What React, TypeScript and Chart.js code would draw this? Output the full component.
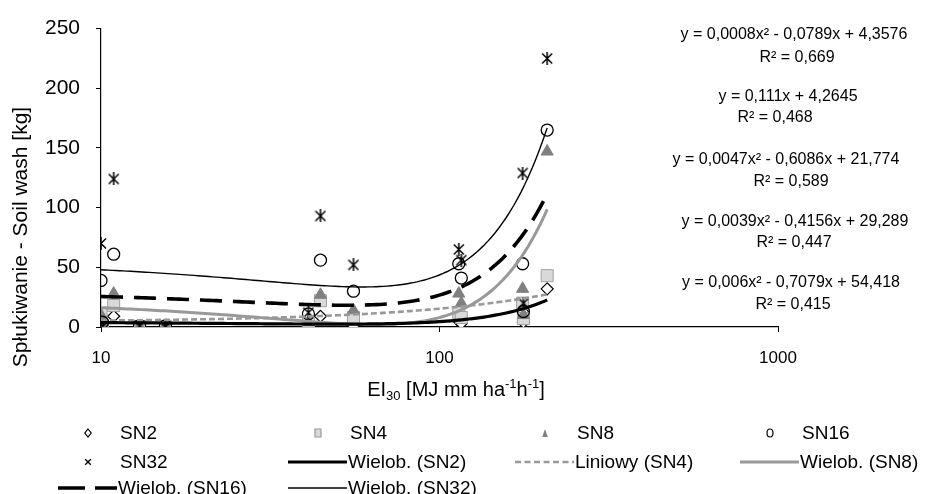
import { useEffect, useRef } from "react";
import { Chart, registerables } from "chart.js";

Chart.register(...registerables);

// ---- Data ----
const EI30 = [10.0, 10.1, 10.9, 13.0, 15.5, 41, 44.5, 55.7, 114, 116, 176, 177, 208];
const SN2 = [1, 0.5, 9, 0.5, 0.5, 2, 9, 1, 5, 3, 13, 4, 32];
const SN4 = [11, 1, 18, 0.5, 0.5, 3, 22, 8, 12, 8, 20, 7, 43];
const SN8 = [10, 1, 28, 0.5, 1, 4, 27, 14, 28, 20, 32, 10, 147];
const SN16 = [39, 4, 61, 1, 1, 11, 56, 30, 53, 41, 53, 13, 165];
const SN32 = [70, 0.5, 124, 1, 0, 12, 93, 52, 65, 56, 129, 20, 225];

// trendline coefficients [a, b, c] : y = a*x^2 + b*x + c (as printed on the chart)
const TREND_SN2 = [0.0008, -0.0789, 4.3576];
const TREND_SN4 = [0, 0.111, 4.2645];
const TREND_SN8 = [0.0047, -0.6086, 21.774];
const TREND_SN16 = [0.0039, -0.4156, 29.289];
const TREND_SN32 = [0.006, -0.7079, 54.418];

const EQUATIONS = [
  "y = 0,0008x² - 0,0789x + 4,3576",
  "y = 0,111x + 4,2645",
  "y = 0,0047x² - 0,6086x + 21,774",
  "y = 0,0039x² - 0,4156x + 29,289",
  "y = 0,006x² - 0,7079x + 54,418",
];
const R_SQUARED = ["R² = 0,669", "R² = 0,468", "R² = 0,589", "R² = 0,447", "R² = 0,415"];

const X_TICKS = [10, 100, 1000];
const Y_TICKS = [0, 50, 100, 150, 200, 250];
const SERIES_NAMES = ["SN2", "SN4", "SN8", "SN16", "SN32"];
const TREND_NAMES = ["Wielob. (SN2)", "Liniowy (SN4)", "Wielob. (SN8)", "Wielob. (SN16)", "Wielob. (SN32)"];
const Y_TITLE = "Spłukiwanie - Soil wash [kg]";

const FONT = '"Liberation Sans", Arial, sans-serif';

function trendPoints(coef: number[]) {
  const lo = Math.min(...EI30);
  const hi = Math.max(...EI30);
  const n = 120;
  const pts: { x: number; y: number }[] = [];
  for (let i = 0; i <= n; i++) {
    const x = Math.exp(Math.log(lo) + ((Math.log(hi) - Math.log(lo)) * i) / n);
    pts.push({ x, y: coef[0] * x * x + coef[1] * x + coef[2] });
  }
  return pts;
}

function makeStar(size: number, lw: number) {
  const c = document.createElement("canvas");
  c.width = size;
  c.height = size + 1;
  const g = c.getContext("2d")!;
  g.strokeStyle = "#000";
  g.lineWidth = lw;
  const m = size / 2;
  g.beginPath();
  g.moveTo(1, 1.5);
  g.lineTo(size - 1, size - 0.5);
  g.moveTo(size - 1, 1.5);
  g.lineTo(1, size - 0.5);
  g.moveTo(m, 0);
  g.lineTo(m, size + 1);
  g.stroke();
  return c;
}

type MarkerKind = "diamond" | "square" | "triangle" | "circle" | "star";

function drawMarker(ctx: CanvasRenderingContext2D, kind: MarkerKind, x: number, y: number, s: number) {
  ctx.save();
  ctx.lineWidth = 1.2;
  ctx.beginPath();
  if (kind === "diamond") {
    ctx.moveTo(x, y - s);
    ctx.lineTo(x + s * 0.8, y);
    ctx.lineTo(x, y + s);
    ctx.lineTo(x - s * 0.8, y);
    ctx.closePath();
    ctx.fillStyle = "#fff";
    ctx.strokeStyle = "#000";
    ctx.fill();
    ctx.stroke();
  } else if (kind === "square") {
    ctx.rect(x - s * 0.75, y - s, s * 1.5, s * 2);
    ctx.fillStyle = "#d9d9d9";
    ctx.strokeStyle = "#9a9a9a";
    ctx.fill();
    ctx.stroke();
  } else if (kind === "triangle") {
    ctx.moveTo(x, y - s);
    ctx.lineTo(x + s * 0.7, y + s);
    ctx.lineTo(x - s * 0.7, y + s);
    ctx.closePath();
    ctx.fillStyle = "#808080";
    ctx.fill();
  } else if (kind === "circle") {
    ctx.ellipse(x, y, s * 0.75, s, 0, 0, Math.PI * 2);
    ctx.strokeStyle = "#000";
    ctx.stroke();
  } else {
    ctx.strokeStyle = "#000";
    ctx.lineWidth = 1.4;
    ctx.moveTo(x - s * 0.7, y - s * 0.7);
    ctx.lineTo(x + s * 0.7, y + s * 0.7);
    ctx.moveTo(x + s * 0.7, y - s * 0.7);
    ctx.lineTo(x - s * 0.7, y + s * 0.7);
    ctx.stroke();
  }
  ctx.restore();
}

const LINE_STYLES = [
  { color: "#000", width: 3.2, dash: [] as number[], legendDash: [] as number[] },
  { color: "#999", width: 2.6, dash: [6, 3], legendDash: [6, 3.5] },
  { color: "#999", width: 3, dash: [] as number[], legendDash: [] as number[] },
  { color: "#000", width: 3.6, dash: [22, 11], legendDash: [27, 10] },
  { color: "#000", width: 1.4, dash: [] as number[], legendDash: [] as number[] },
];
const MARKERS: MarkerKind[] = ["diamond", "square", "triangle", "circle", "star"];

const textPlugin = {
  id: "customText",
  afterDraw(chart: any) {
    const ctx: CanvasRenderingContext2D = chart.ctx;
    ctx.save();
    ctx.fillStyle = "#000";

    // Y title
    ctx.save();
    ctx.translate(21, 237);
    ctx.rotate(-Math.PI / 2);
    ctx.font = `21px ${FONT}`;
    ctx.textAlign = "center";
    ctx.textBaseline = "middle";
    ctx.fillText(Y_TITLE, 0, 0);
    ctx.restore();

    // X title with sub / superscripts
    const parts: { t: string; size: number; dy: number }[] = [
      { t: "EI", size: 20, dy: 0 },
      { t: "30", size: 13, dy: 4 },
      { t: " [MJ mm ha", size: 20, dy: 0 },
      { t: "-1", size: 13, dy: -8 },
      { t: "h", size: 20, dy: 0 },
      { t: "-1", size: 13, dy: -8 },
      { t: "]", size: 20, dy: 0 },
    ];
    let total = 0;
    for (const p of parts) {
      ctx.font = `${p.size}px ${FONT}`;
      total += ctx.measureText(p.t).width;
    }
    let x = 456 - total / 2;
    ctx.textAlign = "left";
    ctx.textBaseline = "alphabetic";
    for (const p of parts) {
      ctx.font = `${p.size}px ${FONT}`;
      ctx.fillText(p.t, x, 396 + p.dy);
      x += ctx.measureText(p.t).width;
    }

    // Equations
    const eqX = [794, 788, 786, 795, 791];
    const eqY = [35, 97, 160, 222, 283];
    const rX = [797, 775, 791, 794, 793];
    const rY = [58, 118, 182, 243, 305];
    ctx.font = `16px ${FONT}`;
    ctx.textAlign = "center";
    ctx.textBaseline = "middle";
    EQUATIONS.forEach((eq, i) => {
      ctx.fillText(eq, eqX[i], eqY[i]);
      ctx.fillText(R_SQUARED[i], rX[i], rY[i]);
    });

    // Legend
    const colX = [88, 318, 545, 770];
    const rowY = [433, 462, 488];
    const items: { name: string; kind: "m" | "l"; idx: number }[] = [
      ...SERIES_NAMES.map((n, i) => ({ name: n, kind: "m" as const, idx: i })),
      ...TREND_NAMES.map((n, i) => ({ name: n, kind: "l" as const, idx: i })),
    ];
    ctx.font = `19px ${FONT}`;
    ctx.textAlign = "left";
    ctx.textBaseline = "middle";
    items.forEach((it, k) => {
      const cx = colX[k % 4];
      const cy = rowY[Math.floor(k / 4)];
      if (it.kind === "m") {
        drawMarker(ctx, MARKERS[it.idx], cx, cy, 4);
        ctx.fillStyle = "#000";
        ctx.fillText(it.name, cx + 32, cy + 1);
      } else {
        const st = LINE_STYLES[it.idx];
        ctx.save();
        ctx.strokeStyle = st.color;
        ctx.lineWidth = st.width;
        ctx.setLineDash(st.legendDash);
        ctx.beginPath();
        ctx.moveTo(cx - 30, cy);
        ctx.lineTo(cx + 29, cy);
        ctx.stroke();
        ctx.restore();
        ctx.fillStyle = "#000";
        ctx.fillText(it.name, cx + 30, cy + 1);
      }
    });
    ctx.restore();
  },
};

export default function App() {
  const ref = useRef<HTMLCanvasElement | null>(null);

  useEffect(() => {
    document.body.style.margin = "0";
    const canvas = ref.current!;
    const star = makeStar(12, 1.5);
    const pts = (arr: number[]) => EI30.map((x, i) => ({ x, y: arr[i] }));
    const trends = [TREND_SN2, TREND_SN4, TREND_SN8, TREND_SN16, TREND_SN32];

    const trendSets = trends.map((c, i) => ({
      type: "line" as const,
      label: TREND_NAMES[i],
      data: trendPoints(c),
      showLine: true,
      pointRadius: 0,
      borderColor: LINE_STYLES[i].color,
      borderWidth: LINE_STYLES[i].width,
      borderDash: LINE_STYLES[i].dash,
      tension: 0,
      fill: false,
      order: 0,
    }));

    const chart = new Chart(canvas, {
      type: "scatter",
      data: {
        datasets: [
          ...trendSets,
          {
            label: "SN2",
            data: pts(SN2),
            pointStyle: "rectRot",
            pointRadius: 6,
            backgroundColor: "#fff",
            borderColor: "#000",
            borderWidth: 1.2,
            order: 5,
          },
          {
            label: "SN4",
            data: pts(SN4),
            pointStyle: "rect",
            pointRadius: 8.5,
            backgroundColor: "#d9d9d9",
            borderColor: "#a0a0a0",
            borderWidth: 1,
            order: 4,
          },
          {
            label: "SN8",
            data: pts(SN8),
            pointStyle: "triangle",
            pointRadius: 7,
            backgroundColor: "#808080",
            borderColor: "#808080",
            borderWidth: 1,
            order: 3,
          },
          {
            label: "SN16",
            data: pts(SN16),
            pointStyle: "circle",
            pointRadius: 6,
            backgroundColor: "rgba(0,0,0,0)",
            borderColor: "#000",
            borderWidth: 1.3,
            order: 2,
          },
          {
            label: "SN32",
            data: pts(SN32),
            pointStyle: star,
            pointRadius: 6,
            order: 1,
          },
        ] as any,
      },
      options: {
        animation: false,
        responsive: false,
        events: [],
        layout: { padding: { left: 0, right: 154, top: 22, bottom: 0 } },
        plugins: { legend: { display: false }, tooltip: { enabled: false } },
        scales: {
          x: {
            type: "logarithmic",
            min: 10,
            max: 1000,
            position: "bottom",
            afterBuildTicks: (s: any) => {
              s.ticks = X_TICKS.map((v) => ({ value: v }));
            },
            afterFit: (s: any) => {
              s.height = 167;
            },
            ticks: {
              callback: (v: any) => String(v),
              font: { size: 17, family: FONT },
              color: "#000",
              padding: 16,
              maxRotation: 0,
              autoSkip: false,
            },
            grid: { drawOnChartArea: false, drawTicks: true, tickLength: 5, color: "#000" },
            border: { display: true, color: "#000", width: 1.2 },
          },
          y: {
            type: "linear",
            min: 0,
            max: 250,
            afterBuildTicks: (s: any) => {
              s.ticks = Y_TICKS.map((v) => ({ value: v }));
            },
            afterFit: (s: any) => {
              s.width = 101;
            },
            ticks: {
              font: { size: 21, family: FONT },
              color: "#000",
              padding: 16,
            },
            grid: { drawOnChartArea: false, drawTicks: true, tickLength: 5, color: "#000" },
            border: { display: true, color: "#000", width: 1.2 },
          },
        },
      } as any,
      plugins: [textPlugin],
    });
    return () => chart.destroy();
  }, []);

  return <canvas ref={ref} width={932} height={494} style={{ display: "block" }} />;
}
